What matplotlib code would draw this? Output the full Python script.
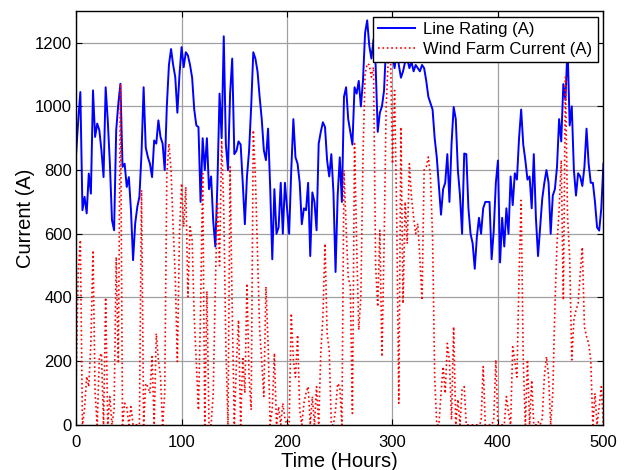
import numpy as np
import matplotlib
matplotlib.use("Agg")
import matplotlib.pyplot as plt

plt.rcParams['font.family'] = ['Liberation Sans', 'DejaVu Sans']

# hours, sampled every 2 h
hours = np.arange(0, 501, 2)

# line rating (A)
line_rating = [
    852, 956, 1045, 674, 716, 664, 789, 726, 1050, 904,      # 0-18
    946, 925, 862, 778, 1060, 956, 820, 643, 611, 925,       # 20-38
    1008, 1071, 810, 820, 747, 778, 674, 517, 632, 684,      # 40-58
    716, 852, 1060, 871, 841, 820, 778, 893, 883, 956,       # 60-78
    904, 883, 800, 1000, 1130, 1180, 1130, 1092, 980, 1100,  # 80-98
    1186, 1123, 1170, 1160, 1130, 1090, 990, 940, 935, 700,  # 100-118
    900, 800, 900, 740, 780, 640, 560, 760, 1040, 900,       # 120-138
    1220, 880, 800, 1040, 1150, 850, 860, 890, 880, 760,     # 140-158
    630, 780, 860, 1000, 1170, 1150, 1110, 1030, 960, 862,   # 160-178
    831, 930, 747, 520, 740, 600, 620, 760, 600, 760,        # 180-198
    680, 600, 800, 960, 840, 820, 760, 630, 680, 674,        # 200-218
    760, 530, 730, 700, 611, 883, 920, 950, 935, 830,        # 220-238
    780, 850, 730, 480, 720, 840, 700, 1030, 1060, 960,      # 240-258
    920, 880, 1060, 1040, 1080, 1000, 1080, 1230, 1270, 1190,  # 260-278
    1150, 1210, 1130, 920, 980, 1000, 1050, 1200, 1230, 1150,  # 280-298
    1160, 1120, 1180, 1130, 1090, 1110, 1140, 1150, 1120, 1140,  # 300-318
    1110, 1130, 1120, 1110, 1130, 1120, 1080, 1030, 1010, 990,   # 320-338
    900, 840, 750, 660, 740, 760, 850, 700, 883, 998,        # 340-358
    960, 800, 720, 600, 852, 850, 680, 600, 570, 490,        # 360-378
    590, 650, 600, 680, 700, 700, 700, 520, 610, 760,        # 380-398
    830, 510, 650, 560, 680, 600, 780, 690, 790, 770,        # 400-418
    900, 990, 880, 830, 770, 780, 680, 850, 650, 530,        # 420-438
    620, 710, 760, 800, 760, 600, 720, 740, 810, 960,        # 440-458
    890, 1070, 1020, 1190, 940, 1000, 800, 720, 790, 780,    # 460-478
    750, 810, 930, 820, 760, 760, 700, 620, 610, 680,        # 480-498
    820,                                                     # 500
]

# wind farm current (A)
wind_current = [
    141, 480, 580, 0, 50, 152, 120, 256, 548, 99,            # 0-18
    0, 210, 225, 0, 400, 0, 89, 0, 47, 527,                  # 20-38
    193, 1071, 0, 68, 57, 0, 57, 0, 0, 0,                    # 40-58
    0, 737, 0, 130, 120, 99, 214, 0, 287, 204,               # 60-78
    152, 0, 99, 789, 883, 800, 620, 465, 199, 600,           # 80-98
    758, 622, 747, 402, 622, 580, 340, 193, 47, 360,         # 100-118
    789, 0, 420, 0, 0, 99, 434, 700, 500, 893,               # 120-138
    674, 245, 0, 810, 360, 0, 193, 329, 0, 214,              # 140-158
    100, 444, 150, 47, 925, 778, 538, 300, 200, 89,          # 160-178
    434, 256, 0, 50, 225, 0, 57, 0, 68, 20,                  # 180-198
    0, 0, 350, 204, 150, 282, 47, 0, 68, 100,                # 200-218
    120, 0, 89, 0, 120, 0, 225, 340, 569, 287,               # 220-238
    233, 0, 0, 47, 130, 120, 0, 800, 622, 465,               # 240-258
    434, 36, 883, 569, 298, 400, 841, 1100, 1134, 1130,      # 260-278
    1092, 1123, 500, 371, 611, 214, 560, 1000, 1150, 1196,   # 280-298
    820, 1050, 653, 68, 935, 381, 700, 569, 820, 716,        # 300-318
    653, 600, 632, 520, 392, 800, 810, 841, 780, 590,        # 320-338
    150, 0, 0, 100, 183, 99, 256, 200, 16, 308,              # 340-358
    0, 80, 0, 110, 120, 0, 0, 0, 0, 0,                       # 360-378
    0, 0, 10, 183, 0, 0, 0, 0, 15, 204,                      # 380-398
    0, 0, 0, 0, 89, 40, 0, 245, 200, 150,                    # 400-418
    465, 705, 200, 0, 204, 0, 140, 0, 0, 10,                 # 420-438
    0, 20, 152, 214, 152, 0, 100, 371, 569, 674,             # 440-458
    831, 392, 1092, 653, 527, 204, 329, 360, 381, 475,       # 460-478
    558, 308, 277, 256, 204, 0, 99, 0, 57, 120,              # 480-498
    0,                                                       # 500
]

fig = plt.figure(figsize=(6.24, 4.70), dpi=100)
ax = fig.add_axes([0.122, 0.096, 0.845, 0.881])

ax.plot(hours, line_rating, color='#0000ff', lw=1.4, label='Line Rating (A)')
ax.plot(hours, wind_current, color='#ff0000', lw=1.2, ls=':', label='Wind Farm Current (A)')

ax.set_xlim(0, 500)
ax.set_ylim(0, 1300)
ax.set_xticks(range(0, 501, 100))
ax.set_yticks(range(0, 1201, 200))
ax.grid(True, color='#a0a0a0', lw=0.9, ls='-')
ax.set_axisbelow(True)
ax.tick_params(direction='in', top=True, right=True, labelsize=12, length=4)
ax.tick_params(axis='x', pad=7.5)
ax.tick_params(axis='y', pad=3)
for sp in ax.spines.values():
    sp.set_linewidth(1.0)

ax.set_xlabel('Time (Hours)', fontsize=14.5, labelpad=1.5)
ax.set_ylabel('Current (A)', fontsize=14.5, labelpad=0)

leg = ax.legend(loc='upper right', fontsize=12, fancybox=False, framealpha=1,
                edgecolor='black', handlelength=2.2, labelspacing=0.3,
                borderaxespad=0.35, handletextpad=0.5, borderpad=0.3)
leg.get_frame().set_linewidth(1.0)

fig.savefig('out.png', dpi=100)
